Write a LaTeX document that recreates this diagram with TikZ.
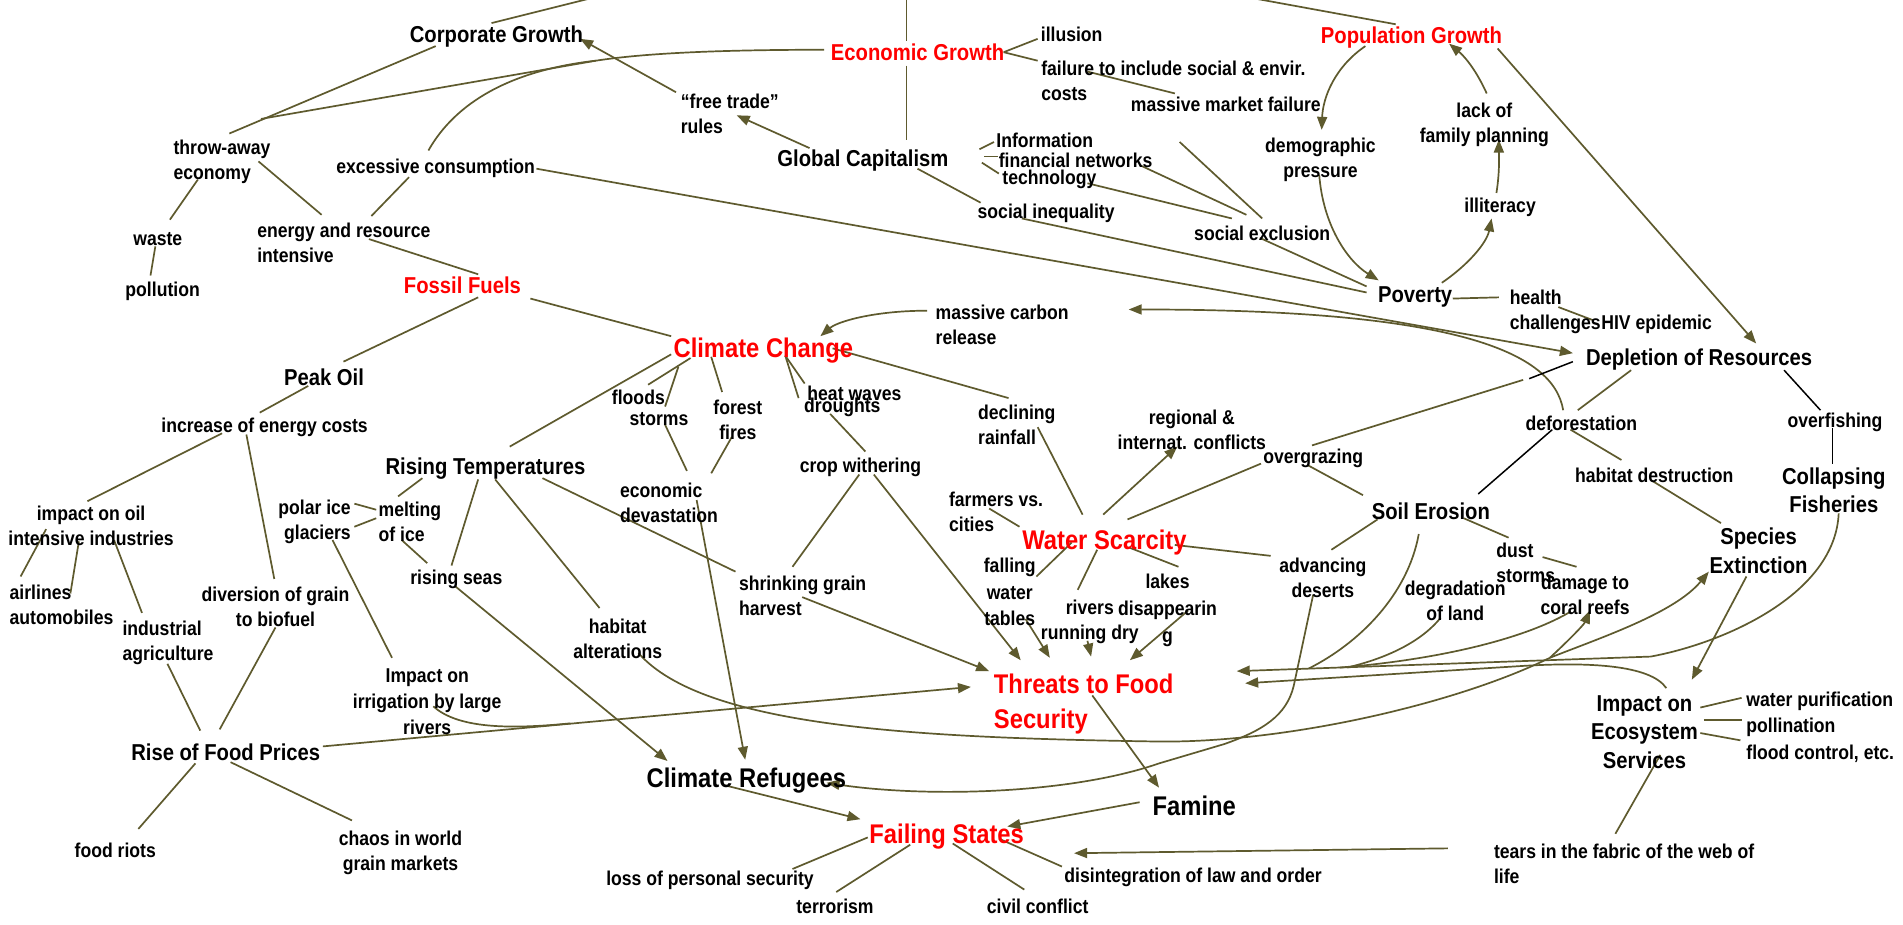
\documentclass[tikz,border=0pt]{standalone}
\usepackage{fontspec}
\setmainfont{Liberation Sans}[FakeStretch=0.88]
\usetikzlibrary{arrows.meta}
\pgfdeclarelayer{bg}
\pgfsetlayers{bg,main}
\definecolor{lnc}{RGB}{94,90,46}
\definecolor{hotred}{RGB}{255,0,0}
\tikzset{
 lbl/.style={inner sep=1pt, align=center, text=black},
 sm/.style={lbl, font=\bfseries\fontsize{20}{25}\selectfont},
 md/.style={lbl, font=\bfseries\fontsize{23}{28}\selectfont},
 lg/.style={lbl, font=\bfseries\fontsize{27}{35}\selectfont},
 hot/.style={text=hotred},
 ln/.style={draw=lnc, line width=1.7pt},
 blk/.style={draw=black, line width=1.5pt},
 arr/.style={ln, -{Triangle[length=13pt,width=10pt]}}
}
\begin{document}
\begin{tikzpicture}[x=1.2136pt,y=-1.2136pt]
\useasboundingbox (0,0) rectangle (1568,762);
% ---------- nodes ----------
\node[md] (CG) at (409,30) {Corporate Growth};
\node[md,hot] (EG) at (756,43) {Economic Growth};
\node[sm] (illusion) at (883,28) {illusion};
\node[sm,align=left,anchor=west] (failure) at (857,67) {failure to include social \& envir.\\costs};
\node[sm] (mmf) at (1010,86) {massive market failure};
\node[md,hot] (PG) at (1163,31) {Population Growth};
\node[sm,align=left,anchor=west] (ftr) at (560,94) {“free trade”\\rules};
\node[md] (GC) at (711,132) {Global Capitalism};
\node[sm,anchor=west] (info) at (820,116) {Information};
\node[sm,anchor=west] (fin) at (822,132) {financial networks};
\node[sm,anchor=west] (tech) at (825,148) {technology};
\node[sm] (sineq) at (862,176) {social inequality};
\node[sm] (sexcl) at (1040,192) {social exclusion};
\node[sm] (demo) at (1088,132) {demographic\\pressure};
\node[sm] (lack) at (1223,103) {lack of\\family planning};
\node[sm] (illit) at (1236,171) {illiteracy};
\node[md] (pov) at (1166,245) {Poverty};
\node[sm,align=left,anchor=west] (health) at (1243,257) {health\\challenges};
\node[sm] (hiv) at (1365,267) {HIV epidemic};
\node[sm,align=left,anchor=west] (throw) at (142,133) {throw-away\\economy};
\node[sm] (exc) at (359,139) {excessive consumption};
\node[sm] (waste) at (130,197) {waste};
\node[sm] (poll) at (134,240) {pollution};
\node[sm,align=left,anchor=west] (energy) at (211,200) {energy and resource\\intensive};
\node[md,hot] (FF) at (381,235) {Fossil Fuels};
\node[sm,align=left,anchor=west] (mcr) at (770,268) {massive carbon\\release};
\node[lg,hot] (CC) at (629,289) {Climate Change};
\node[md] (DR) at (1400,296) {Depletion of Resources};
\node[md] (PO) at (267,311) {Peak Oil};
\node[sm] (inc) at (218,352) {increase of energy costs};
\node[sm] (floods) at (526,327) {floods};
\node[sm] (storms) at (543,345) {storms};
\node[sm] (forest) at (608,346) {forest\\fires};
\node[sm] (heat) at (704,324) {heat waves};
\node[sm] (drought) at (694,336) {droughts};
\node[sm,align=left,anchor=west] (decl) at (805,350) {declining\\rainfall};
\node[sm] (regional) at (982,354) {regional \&\\internat. conflicts};
\node[sm] (overg) at (1082,378) {overgrazing};
\node[sm] (defor) at (1303,349) {deforestation};
\node[sm] (overf) at (1512,348) {overfishing};
\node[sm] (habd) at (1363,392) {habitat destruction};
\node[md] (CF) at (1511,404) {Collapsing\\Fisheries};
\node[md] (RT) at (400,386) {Rising Temperatures};
\node[sm] (impoil) at (75,433) {impact on oil\\intensive industries};
\node[sm,align=right,anchor=east] (polar) at (290,430) {polar ice\\glaciers};
\node[sm,align=left,anchor=west] (melt) at (311,430) {melting\\of ice};
\node[sm,align=left,anchor=west] (econ) at (510,414) {economic\\devastation};
\node[sm] (crop) at (709,385) {crop withering};
\node[sm,align=left,anchor=west] (farm) at (781,422) {farmers vs.\\cities};
\node[lg,hot] (WS) at (910,447) {Water Scarcity};
\node[md] (SE) at (1179,421) {Soil Erosion};
\node[sm,align=left,anchor=west] (dust) at (1232,464) {dust\\storms};
\node[sm] (coral) at (1306,490) {damage to\\coral reefs};
\node[md,font=\bfseries\fontsize{23}{29}\selectfont] (SpE) at (1449,454) {Species\\Extinction};
\node[sm] (adv) at (1090,476) {advancing\\deserts};
\node[sm] (degr) at (1199,495) {degradation\\of land};
\node[sm,align=left,anchor=west] (air) at (7,498) {airlines\\automobiles};
\node[sm] (div) at (227,500) {diversion of grain\\to biofuel};
\node[sm] (seas) at (376,477) {rising seas};
\node[sm] (habalt) at (509,526) {habitat\\alterations};
\node[sm,align=left,anchor=west] (shrink) at (608,491) {shrinking grain\\harvest};
\node[sm,font=\bfseries\fontsize{20}{26.5}\selectfont] (fwt) at (832,488) {falling\\water\\tables};
\node[sm] (rivers) at (898,512) {rivers\\running dry};
\node[sm,font=\bfseries\fontsize{20}{27}\selectfont] (lakes) at (962,503) {lakes\\disappearin\\g};
\node[sm,align=left,anchor=west] (indag) at (100,530) {industrial\\agriculture};
\node[sm,font=\bfseries\fontsize{20}{26}\selectfont] (irr) at (352,578) {Impact on\\irrigation by large\\rivers};
\node[lg,hot,align=left,anchor=west] (TFS) at (818,580) {Threats to Food\\Security};
\node[md] (RFP) at (186,620) {Rise of Food Prices};
\node[lg] (CR) at (615,643) {Climate Refugees};
\node[md,font=\bfseries\fontsize{23}{28.5}\selectfont] (ES) at (1355,603) {Impact on\\Ecosystem\\Services};
\node[sm,anchor=west] (wp) at (1438,578) {water purification};
\node[sm,anchor=west] (pol) at (1438,599) {pollination};
\node[sm,anchor=west] (flood) at (1438,621) {flood control, etc.};
\node[lg] (FAM) at (984,664) {Famine};
\node[lg,hot] (FS) at (780,689) {Failing States};
\node[sm] (riots) at (95,701) {food riots};
\node[sm] (chaos) at (330,703) {chaos in world\\grain markets};
\node[sm] (loss) at (585,725) {loss of personal security};
\node[sm] (terr) at (688,747) {terrorism};
\node[sm] (civil) at (855,747) {civil conflict};
\node[sm] (disint) at (983,723) {disintegration of law and order};
\node[sm,align=left,anchor=west] (tears) at (1230,712) {tears in the fabric of the web of\\life};
% ---------- connectors ----------
\begin{pgfonlayer}{bg}
\fill[white] (0,0) rectangle (1568,762);
\coordinate (cgtop) at (485,-1);
\coordinate (egtop) at (747,-1);
\coordinate (pgtop) at (1035,-1);
\coordinate (jeg) at (491,50);
\coordinate (jthrow) at (215,98);
\coordinate (up1) at (1360,541);
\coordinate (jse) at (1078,551);
\coordinate (jdg) at (1110,550);
\coordinate (jcr) at (1104,550);
\coordinate (hbr) at (1277,542);
\coordinate (jirr) at (470,596);
\draw[ln] ([shift={(-4,-11)}]CG.center) -- (cgtop);
\draw[ln] (egtop) -- ([shift={(-9,-9)}]EG.center);
\draw[ln] ([shift={(-9,11)}]EG.center) -- ([shift={(36,-17)}]GC.center);
\draw[ln] ([shift={(-13,-11)}]PG.center) -- (pgtop);
\draw[ln] ([shift={(-77,-2)}]EG.center) .. controls (590,41) and (530,44) .. (jeg) -- (jthrow);
\draw[ln] ([shift={(-50,8)}]CG.center) -- ([shift={(47,-23)}]throw.west);
\draw[ln] ([shift={(-6,-15)}]exc.center) .. controls (375,85) and (420,58) .. (jeg);
\draw[arr] ([shift={(-3,-18)}]ftr.west) -- ([shift={(69,2)}]CG.center);
\draw[arr] ([shift={(-44,-10)}]GC.center) -- ([shift={(47,1)}]ftr.west);
\draw[ln] ([shift={(71,0)}]EG.center) -- ([shift={(-28,4)}]illusion.center);
\draw[ln] ([shift={(71,0)}]EG.center) -- ([shift={(-2,-17)}]failure.west);
\draw[ln] ([shift={(39,-8)}]failure.west) -- ([shift={(-42,-9)}]mmf.center);
\draw[ln] ([shift={(96,-9)}]GC.center) -- ([shift={(-1,1)}]info.west);
\draw[ln] ([shift={(100,-3)}]GC.center) -- ([shift={(0,-3)}]fin.west);
\draw[ln] ([shift={(98,2)}]GC.center) -- ([shift={(-2,-5)}]tech.west);
\draw[ln] ([shift={(45,7)}]GC.center) -- ([shift={(-54,-9)}]sineq.center);
\draw[ln] ([shift={(117,4)}]fin.west) -- ([shift={(-13,-15)}]sexcl.center);
\draw[ln] ([shift={(71,3)}]tech.west) -- ([shift={(-25,-12)}]sexcl.center);
\draw[ln] ([shift={(-38,31)}]mmf.center) -- ([shift={(0,-12)}]sexcl.center);
\draw[ln] ([shift={(-20,4)}]sineq.center) -- ([shift={(-40,-4)}]pov.center);
\draw[ln] ([shift={(-2,4)}]sexcl.center) -- ([shift={(-40,-9)}]pov.center);
\draw[arr] ([shift={(83,0)}]exc.center) -- ([shift={(-104,-5)}]DR.center);
\draw[arr] ([shift={(-15,-11)}]defor.center) .. controls (1280,290) and (1200,255) .. ([shift={(160,-13)}]mcr.west);
\draw[arr] ([shift={(-6,-12)}]mcr.west) .. controls (720,256) and (690,265) .. ([shift={(47,-12)}]CC.center);
\draw[ln] ([shift={(31,1)}]pov.center) -- ([shift={(-8,-12)}]health.west);
\draw[ln] ([shift={(41,-4)}]health.west) -- ([shift={(-52,-3)}]hiv.center);
\draw[arr] ([shift={(-38,7)}]PG.center) .. controls (1100,55) and (1090,80) .. ([shift={(1,-25)}]demo.center);
\draw[arr] ([shift={(-1,12)}]demo.center) .. controls (1090,185) and (1110,215) .. ([shift={(-30,-14)}]pov.center);
\draw[arr] ([shift={(22,-12)}]pov.center) .. controls (1210,218) and (1225,200) .. ([shift={(-7,9)}]illit.center);
\draw[arr] ([shift={(-3,-12)}]illit.center) .. controls (1236,140) and (1235,125) .. ([shift={(12,12)}]lack.center);
\draw[arr] ([shift={(2,-26)}]lack.center) .. controls (1215,55) and (1205,45) .. ([shift={(31,5)}]PG.center);
\draw[arr] ([shift={(71,9)}]PG.center) -- ([shift={(47,-13)}]DR.center);
\draw[blk] ([shift={(-104,2)}]DR.center) -- ([shift={(-140,16)}]DR.center);
\draw[ln] ([shift={(-145,17)}]DR.center) -- ([shift={(-1,-11)}]overg.center);
\draw[ln] ([shift={(-43,4)}]overg.center) -- ([shift={(19,-19)}]WS.center);
\draw[ln] ([shift={(-5,5)}]overg.center) -- ([shift={(-56,-13)}]SE.center);
\draw[ln] ([shift={(-56,9)}]DR.center) -- ([shift={(-3,-11)}]defor.center);
\draw[ln] ([shift={(-9,5)}]defor.center) -- ([shift={(-27,-13)}]habd.center);
\draw[blk] ([shift={(-24,5)}]defor.center) -- ([shift={(39,-14)}]SE.center);
\draw[ln] ([shift={(-2,4)}]habd.center) -- ([shift={(-31,-23)}]SpE.center);
\draw[blk] ([shift={(70,9)}]DR.center) -- ([shift={(-12,-10)}]overf.center);
\draw[blk] ([shift={(-2,5)}]overf.center) -- ([shift={(-1,-22)}]CF.center);
\draw[arr] ([shift={(4,19)}]CF.center) .. controls (1512,490) and (1420,530) .. (up1) -- ([shift={(201,-27)}]TFS.west);
\draw[ln] ([shift={(-10,19)}]SE.center) .. controls (1160,490) and (1120,530) .. (jse);
\draw[ln] ([shift={(-12,14)}]degr.center) .. controls (1170,530) and (1140,543) .. (jdg);
\draw[ln] ([shift={(-12,14)}]coral.center) .. controls (1250,530) and (1170,545) .. (jcr);
\draw[arr] ([shift={(-10,21)}]SpE.center) -- ([shift={(39,-43)}]ES.center);
\draw[arr] ([shift={(18,-36)}]ES.center) .. controls (1360,548) and (1310,545) .. (1250,549) -- ([shift={(208,-17)}]TFS.west);
\draw[ln] ([shift={(17,12)}]habalt.center) .. controls (580,600) and (760,608) .. (955,611) .. controls (1060,612) and (1200,580) .. (hbr);
\draw[arr] (hbr) .. controls (1290,530) and (1305,515) .. ([shift={(4,13)}]coral.center);
\draw[arr] (hbr) .. controls (1320,525) and (1380,505) .. ([shift={(-41,17)}]SpE.center);
\draw[arr] ([shift={(-8,14)}]adv.center) -- (1066,565) .. controls (1060,590) and (1040,602) .. (1009,613) -- (955,629) .. controls (880,655) and (760,657) .. ([shift={(66,2)}]CR.center);
\draw[arr] ([shift={(53,1)}]shrink.west) -- ([shift={(-3,-27)}]TFS.west);
\draw[arr] ([shift={(11,6)}]crop.center) -- ([shift={(23,-36)}]TFS.west);
\draw[arr] ([shift={(13,22)}]fwt.center) -- ([shift={(47,-38)}]TFS.west);
\draw[arr] ([shift={(-2,16)}]rivers.center) -- ([shift={(81,-39)}]TFS.west);
\draw[arr] ([shift={(17,0)}]lakes.center) -- ([shift={(113,-36)}]TFS.west);
\draw[ln] ([shift={(-27,0)}]WS.center) -- ([shift={(22,-13)}]fwt.center);
\draw[ln] ([shift={(-6,6)}]WS.center) -- ([shift={(-10,-26)}]rivers.center);
\draw[ln] ([shift={(20,4)}]WS.center) -- ([shift={(9,-36)}]lakes.center);
\draw[ln] ([shift={(58,2)}]WS.center) -- ([shift={(-43,-18)}]adv.center);
\draw[ln] ([shift={(7,-23)}]adv.center) -- ([shift={(-44,7)}]SE.center);
\draw[ln] ([shift={(34,-3)}]farm.west) -- ([shift={(-70,-13)}]WS.center);
\draw[ln] ([shift={(50,2)}]decl.west) -- ([shift={(-18,-23)}]WS.center);
\draw[arr] ([shift={(-1,-23)}]WS.center) -- ([shift={(-12,14)}]regional.center);
\draw[ln] ([shift={(57,-2)}]CC.center) -- ([shift={(26,-22)}]decl.west);
\draw[ln] ([shift={(18,4)}]CC.center) -- ([shift={(-41,-8)}]heat.center);
\draw[ln] ([shift={(18,4)}]CC.center) -- ([shift={(-36,-8)}]drought.center);
\draw[ln] ([shift={(-43,5)}]CC.center) -- ([shift={(-13,-23)}]forest.center);
\draw[ln] ([shift={(-60,6)}]CC.center) -- ([shift={(8,-10)}]floods.center);
\draw[ln] ([shift={(-70,13)}]CC.center) -- ([shift={(5,-10)}]storms.center);
\draw[ln] ([shift={(-76,3)}]CC.center) -- ([shift={(20,-18)}]RT.center);
\draw[ln] ([shift={(56,11)}]FF.center) -- ([shift={(-76,-12)}]CC.center);
\draw[ln] ([shift={(13,10)}]FF.center) -- ([shift={(16,-13)}]PO.center);
\draw[ln] ([shift={(93,-3)}]energy.west) -- ([shift={(13,-9)}]FF.center);
\draw[ln] ([shift={(71,0)}]throw.west) -- ([shift={(54,-23)}]energy.west);
\draw[ln] ([shift={(-22,7)}]exc.center) -- ([shift={(95,-22)}]energy.west);
\draw[ln] ([shift={(21,15)}]throw.west) -- ([shift={(10,-16)}]waste.center);
\draw[ln] ([shift={(-2,6)}]waste.center) -- ([shift={(-10,-13)}]poll.center);
\draw[ln] ([shift={(-13,7)}]PO.center) -- ([shift={(-4,-12)}]inc.center);
\draw[ln] ([shift={(-35,5)}]inc.center) -- ([shift={(-3,-20)}]impoil.center);
\draw[ln] ([shift={(-15,6)}]inc.center) -- ([shift={(-1,-23)}]div.center);
\draw[ln] ([shift={(-37,3)}]impoil.center) -- ([shift={(10,-23)}]air.west);
\draw[ln] ([shift={(-10,13)}]impoil.center) -- ([shift={(51,-9)}]air.west);
\draw[ln] ([shift={(19,12)}]impoil.center) -- ([shift={(17,-25)}]indag.west);
\draw[ln] ([shift={(38,17)}]indag.west) -- ([shift={(-21,-18)}]RFP.center);
\draw[ln] ([shift={(0,17)}]div.center) -- ([shift={(-5,-19)}]RFP.center);
\draw[ln] ([shift={(-25,9)}]RFP.center) -- ([shift={(19,-18)}]riots.center);
\draw[ln] ([shift={(4,8)}]RFP.center) -- ([shift={(-40,-27)}]chaos.center);
\draw[arr] ([shift={(80,-5)}]RFP.center) -- ([shift={(-18,-14)}]TFS.west);
\draw[ln] ([shift={(5,4)}]irr.center) .. controls (375,598) and (410,602) .. (jirr);
\draw[ln] ([shift={(-16,15)}]polar.east) -- ([shift={(-29,-36)}]irr.center);
\draw[ln] ([shift={(-1,-10)}]melt.west) -- ([shift={(2,-15)}]polar.east);
\draw[ln] ([shift={(-1,-3)}]melt.west) -- ([shift={(2,4)}]polar.east);
\draw[ln] ([shift={(-52,8)}]RT.center) -- ([shift={(17,-21)}]melt.west);
\draw[ln] ([shift={(20,15)}]melt.west) -- ([shift={(-24,-13)}]seas.center);
\draw[ln] ([shift={(-6,9)}]RT.center) -- ([shift={(-4,-11)}]seas.center);
\draw[ln] ([shift={(8,9)}]RT.center) -- ([shift={(-15,-25)}]habalt.center);
\draw[ln] ([shift={(47,8)}]RT.center) -- ([shift={(-2,-20)}]shrink.west);
\draw[arr] ([shift={(-1,6)}]seas.center) -- ([shift={(-65,-16)}]CR.center);
\draw[arr] ([shift={(64,-2)}]econ.west) -- ([shift={(-1,-17)}]CR.center);
\draw[ln] ([shift={(5,5)}]storms.center) -- ([shift={(56,-26)}]econ.west);
\draw[ln] ([shift={(-5,14)}]forest.center) -- ([shift={(76,-24)}]econ.west);
\draw[ln] ([shift={(-10,5)}]drought.center) -- ([shift={(4,-13)}]crop.center);
\draw[ln] ([shift={(-1,6)}]crop.center) -- ([shift={(45,-24)}]shrink.west);
\draw[arr] ([shift={(-18,4)}]CR.center) -- ([shift={(-71,-14)}]FS.center);
\draw[arr] ([shift={(-45,-3)}]FAM.center) -- ([shift={(50,-8)}]FS.center);
\draw[arr] ([shift={(82,-7)}]TFS.west) -- ([shift={(-29,-15)}]FAM.center);
\draw[ln] ([shift={(-65,1)}]FS.center) -- ([shift={(68,-9)}]loss.center);
\draw[ln] ([shift={(-30,7)}]FS.center) -- ([shift={(1,-12)}]terr.center);
\draw[ln] ([shift={(5,6)}]FS.center) -- ([shift={(-11,-14)}]civil.center);
\draw[ln] ([shift={(43,2)}]FS.center) -- ([shift={(-108,-9)}]disint.center);
\draw[arr] ([shift={(-37,-13)}]tears.west) -- ([shift={(105,14)}]FS.center);
\draw[ln] ([shift={(101,-25)}]tears.west) -- ([shift={(13,19)}]ES.center);
\draw[ln] ([shift={(46,-20)}]ES.center) -- ([shift={(-3,-3)}]wp.west);
\draw[ln] ([shift={(49,-10)}]ES.center) -- ([shift={(-3,-6)}]pol.west);
\draw[ln] ([shift={(46,1)}]ES.center) -- ([shift={(-4,-11)}]flood.west);
\draw[ln] ([shift={(27,6)}]SE.center) -- ([shift={(11,-21)}]dust.west);
\draw[ln] ([shift={(39,-5)}]dust.west) -- ([shift={(-7,-23)}]coral.center);
\end{pgfonlayer}
\end{tikzpicture}
\end{document}
